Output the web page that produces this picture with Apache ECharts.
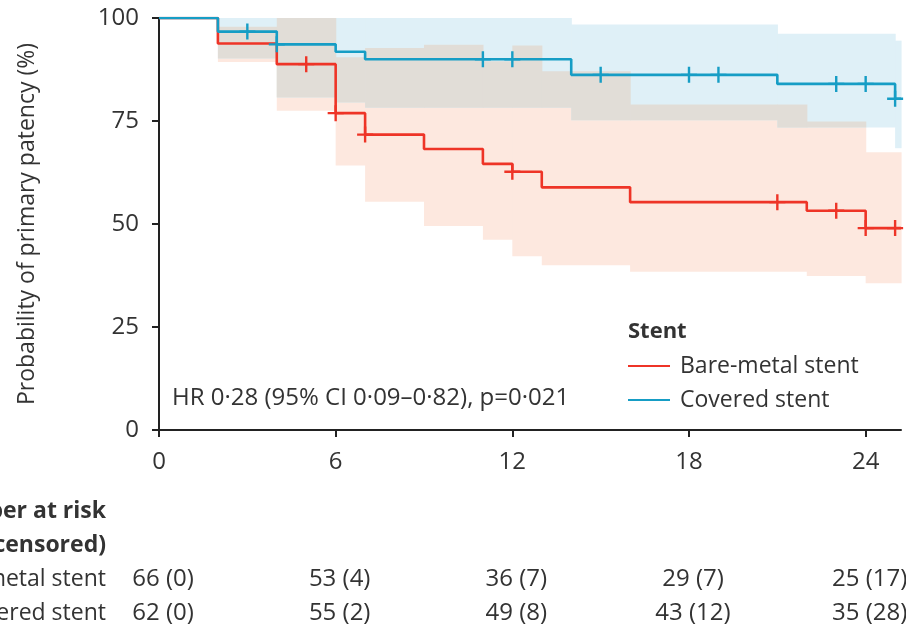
<!DOCTYPE html>
<html>
<head>
<meta charset="utf-8">
<script src="https://cdn.jsdelivr.net/npm/echarts@6/dist/echarts.min.js"></script>
<style>
  html, body { margin: 0; padding: 0; background: #fff; }
  #chart { width: 906px; height: 630px; }
</style>
</head>
<body>
<div id="chart"></div>
<script>
// Kaplan-Meier steps (months, % patent)
const bareTimes = [0, 2, 4, 6, 7, 9, 11, 12, 13, 16, 22, 24, 25.2];
const bareValues = [100, 93.8, 88.8, 76.9, 71.7, 68.2, 64.6, 62.7, 58.9, 55.3, 53.2, 49.0, 49.0];
const coveredTimes = [0, 2, 4, 6, 7, 14, 21, 25, 25.2];
const coveredValues = [100, 96.7, 93.6, 91.8, 90.0, 86.2, 84.0, 80.4, 80.4];

// censoring marks
const bareCensorTimes = [5, 6, 7, 12, 21, 23, 24, 25];
const bareCensorValues = [88.8, 76.9, 71.7, 62.7, 55.3, 53.2, 49.0, 49.0];
const coveredCensorTimes = [3, 4, 11, 12, 15, 18, 19, 23, 24, 25];
const coveredCensorValues = [96.7, 93.6, 90.0, 90.0, 86.2, 86.2, 86.2, 84.0, 84.0, 80.4];

// 95% confidence bands (step breakpoints)
const bareCiTimes = [2, 4, 6, 7, 9, 11, 12, 13, 16, 22, 24, 25.2];
const bareCiUpper = [97.9, 100, 90.5, 92.7, 93.5, 89.5, 93.3, 87.1, 79.0, 74.9, 67.4];
const bareCiLower = [89.3, 77.5, 64.2, 55.4, 49.5, 46.2, 42.2, 40.0, 38.4, 37.4, 35.6];
const coveredCiTimes = [2, 4, 6, 7, 14, 21, 25, 25.2];
const coveredCiUpper = [100, 100, 100, 100, 98.4, 96.2, 94.5];
const coveredCiLower = [90.2, 80.7, 79.5, 78.2, 75.2, 73.4, 68.4];

// number at risk table
const riskTimes = [0, 6, 12, 18, 24];
const bareAtRisk = [66, 53, 36, 29, 25];
const bareCensored = [0, 4, 7, 7, 17];
const coveredAtRisk = [62, 55, 49, 43, 35];
const coveredCensored = [0, 2, 8, 12, 28];
const tableRows = ['Number at risk', '(number censored)', 'Bare-metal stent', 'Covered stent'];

const xTicks = [0, 6, 12, 18, 24];

const RED = '#ee3427';
const BLUE = '#169dc5';
const FONT = 'Open Sans';
const TXT = '#333';

function zip(a, b) { return a.map((v, i) => [v, b[i]]); }

function bandData(times, lower, upper) {
  return lower.map((lo, i) => [times[i], times[i + 1], lo, upper[i]]);
}

function stepAt(times, vals, t) {
  let k = 0;
  for (let i = 0; i < vals.length; i++) if (times[i] <= t) k = i;
  return vals[k];
}

// where the two bands overlap (drawn grey)
function overlapData() {
  const cuts = Array.from(new Set(bareCiTimes.concat(coveredCiTimes))).sort((a, b) => a - b);
  const out = [];
  for (let i = 0; i < cuts.length - 1; i++) {
    const t = cuts[i];
    const lo = Math.max(stepAt(bareCiTimes, bareCiLower, t), stepAt(coveredCiTimes, coveredCiLower, t));
    const hi = Math.min(stepAt(bareCiTimes, bareCiUpper, t), stepAt(coveredCiTimes, coveredCiUpper, t));
    if (hi > lo) out.push([t, cuts[i + 1], lo, hi]);
  }
  return out;
}

function rectItem(color) {
  return function (params, api) {
    const a = api.coord([api.value(0), api.value(3)]);
    const b = api.coord([api.value(1), api.value(2)]);
    return {
      type: 'rect',
      shape: { x: a[0], y: a[1], width: b[0] - a[0] + 0.6, height: b[1] - a[1] },
      style: { fill: color }
    };
  };
}

function band(name, data, color, z) {
  return {
    name: name, type: 'custom', renderItem: rectItem(color), data: data,
    encode: { x: [0, 1], y: [2, 3] }, z: z, silent: true
  };
}

function riskLabels(row, atRisk, censored) {
  return riskTimes.map((t, i) => [t, row, atRisk[i] + ' (' + censored[i] + ')']);
}

const plus = 'path://M6.8,0h2.4v16h-2.4zM0,6.8h16v2.4h-16z';

const chart = echarts.init(document.getElementById('chart'));
chart.setOption({
  animation: false,
  textStyle: { fontFamily: FONT },
  grid: [
    { left: 159, right: 5, top: 18, height: 412, outerBoundsMode: 'none' },
    { left: 159, right: 5, top: 494, height: 136, outerBoundsMode: 'none' }
  ],
  xAxis: [{
    type: 'value', min: 0, max: 25.2, interval: 6,
    axisLine: { lineStyle: { color: '#222', width: 2 } },
    axisTick: { length: 7, lineStyle: { width: 2, color: '#222' }, customValues: xTicks },
    axisLabel: { fontSize: 24, color: TXT, margin: 20, customValues: xTicks },
    splitLine: { show: false }
  }, {
    gridIndex: 1, type: 'value', min: 0, max: 25.2, show: false
  }],
  yAxis: [{
    type: 'value', min: 0, max: 100, interval: 25,
    name: 'Probability of primary patency (%)',
    nameLocation: 'middle', nameGap: 120, nameRotate: 90,
    nameTextStyle: { fontSize: 23, color: TXT },
    axisLine: { show: true, lineStyle: { color: '#222', width: 2 } },
    axisTick: { show: true, length: 7, lineStyle: { width: 2, color: '#222' } },
    axisLabel: { fontSize: 24, color: TXT, margin: 20 },
    splitLine: { show: false }
  }, {
    gridIndex: 1, type: 'category', inverse: true, data: tableRows,
    axisLine: { show: false }, axisTick: { show: false },
    axisLabel: {
      margin: 53, fontSize: 23, color: TXT,
      formatter: (v, i) => (i < 2 ? '{b|' + v + '}' : v),
      rich: { b: { fontWeight: 'bold', fontSize: 23, color: TXT } }
    }
  }],
  legend: {
    data: ['Bare-metal stent', 'Covered stent'],
    orient: 'vertical', left: 628, top: 354, padding: 0,
    icon: 'rect', itemWidth: 42, itemHeight: 2, itemGap: 10,
    textStyle: { fontSize: 23, lineHeight: 24, color: TXT, padding: [0, 0, 0, 5] }
  },
  graphic: [
    { type: 'text', x: 628, y: 332, style: { text: 'Stent', fontSize: 22, fontWeight: 'bold', fill: TXT, fontFamily: FONT, verticalAlign: 'middle' } },
    { type: 'text', x: 172, y: 398, style: { text: 'HR 0·28 (95% CI 0·09–0·82), p=0·021', fontSize: 24, fill: TXT, fontFamily: FONT, verticalAlign: 'middle' } }
  ],
  series: [
    band('bareCI', bandData(bareCiTimes, bareCiLower, bareCiUpper), '#fde8df', 1),
    band('coveredCI', bandData(coveredCiTimes, coveredCiLower, coveredCiUpper), '#dff0f7', 2),
    band('overlap', overlapData(), '#e1ddd7', 3),
    {
      name: 'Bare-metal stent', type: 'line', step: 'end', data: zip(bareTimes, bareValues),
      showSymbol: false, symbol: 'none', color: RED, lineStyle: { width: 2.6, color: RED }, z: 5
    },
    {
      name: 'Covered stent', type: 'line', step: 'end', data: zip(coveredTimes, coveredValues),
      showSymbol: false, symbol: 'none', color: BLUE, lineStyle: { width: 2.6, color: BLUE }, z: 6
    },
    {
      name: 'bareCensor', type: 'scatter', data: zip(bareCensorTimes, bareCensorValues),
      symbol: plus, symbolSize: 16, itemStyle: { color: RED, opacity: 1 }, z: 7
    },
    {
      name: 'coveredCensor', type: 'scatter', data: zip(coveredCensorTimes, coveredCensorValues),
      symbol: plus, symbolSize: 16, itemStyle: { color: BLUE, opacity: 1 }, z: 8
    },
    {
      name: 'risk', type: 'scatter', xAxisIndex: 1, yAxisIndex: 1, symbolSize: 0,
      itemStyle: { opacity: 1 },
      data: riskLabels(2, bareAtRisk, bareCensored).concat(riskLabels(3, coveredAtRisk, coveredCensored)),
      label: {
        show: true, position: 'inside', offset: [4, 0], fontSize: 24, color: TXT,
        textBorderWidth: 0, formatter: p => p.value[2]
      }
    }
  ]
});
</script>
</body>
</html>
